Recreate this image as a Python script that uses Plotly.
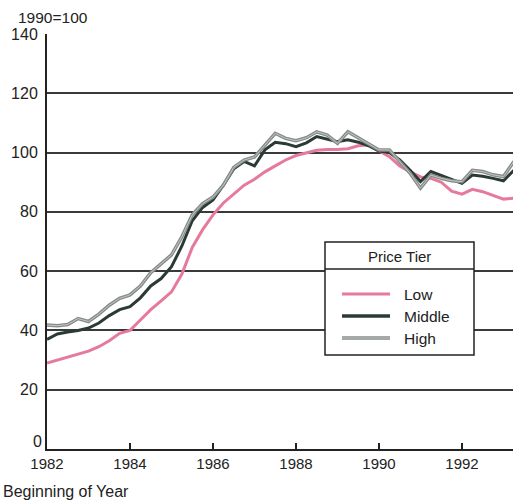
import plotly.graph_objects as go

# ---- data (quarterly, 1990=100) ----
years = [1982 + 0.25 * i for i in range(46)]  # 1982.00 .. 1993.25 (beginning of quarters)

low = [29, 30, 31, 32, 33, 34.5, 36.5, 39, 40, 43.5, 47, 50,
       53, 59, 68, 74, 79, 83, 86, 89, 91, 93.5, 95.5, 97.5,
       99, 99.8, 100.8, 101, 101, 101.3, 102.3, 102.6, 100.5, 98.6, 95.5, 93.5,
       91.8, 91.3, 90, 87, 86, 87.6, 86.8, 85.5, 84.3, 84.6]

middle = [37, 38.8, 39.5, 40, 40.8, 42.5, 45, 47, 48, 51, 55, 57.5,
          61.5, 68.5, 77, 81.5, 84, 89, 94.5, 97, 95.5, 100.9, 103.5, 103,
          102, 103.3, 105.4, 104.5, 103.7, 104.3, 103.5, 102.3, 100.5, 100, 97.5, 94,
          90.2, 93.6, 92.3, 91, 89.6, 92.4, 92, 91.3, 90.5, 94]

high = [41.8, 41.6, 42, 44, 43, 45.5, 48.5, 50.8, 52, 55, 59.5, 62.5,
        65.5, 71.6, 79, 82.8, 85, 89, 95, 97.5, 98.5, 102.5, 106.5, 104.8,
        104, 105, 107, 105.9, 103.1, 107, 105, 102.8, 100.9, 100.9, 97, 93,
        88, 92.4, 91.3, 90.5, 90.2, 94, 93.6, 92.5, 91.9, 97]

series_names = ["Low", "Middle", "High"]
x_ticks = [1982, 1984, 1986, 1988, 1990, 1992]
y_ticks = [0, 20, 40, 60, 80, 100, 120, 140]

# ---- styling ----
FONT = "Liberation Sans, Arial, Helvetica, sans-serif"
TXT = "#222222"
C_LOW = "#e67a9b"
C_MID = "#2c3a35"
C_HIGH = "#868d89"
C_HIGH_IN = "#c3c7c4"
GRID = "#3a3a3a"

W, H = 513, 500
L, R, T, B = 47, 0, 34, 51
PW, PH = W - L - R, H - T - B


def px(xp):
    return (xp - L) / PW


def py(yp):
    return (H - B - yp) / PH


fig = go.Figure()
fig.add_trace(go.Scatter(x=years, y=low, mode="lines", name=series_names[0],
                         line=dict(color=C_LOW, width=3), showlegend=False))
fig.add_trace(go.Scatter(x=years, y=middle, mode="lines", name=series_names[1],
                         line=dict(color=C_MID, width=3), showlegend=False))
fig.add_trace(go.Scatter(x=years, y=high, mode="lines", name=series_names[2],
                         line=dict(color=C_HIGH, width=3.5), showlegend=False))
fig.add_trace(go.Scatter(x=years, y=high, mode="lines", name=series_names[2],
                         line=dict(color=C_HIGH_IN, width=1), showlegend=False,
                         hoverinfo="skip"))

shapes = []
annotations = []

# legend box (drawn manually to match the boxed title style)
bx0, bx1, by0, by1 = 325, 474, 242, 355
shapes.append(dict(type="rect", xref="paper", yref="paper",
                   x0=px(bx0), x1=px(bx1), y0=py(by1), y1=py(by0),
                   fillcolor="white", line=dict(color="#222", width=1.5), layer="above"))
shapes.append(dict(type="line", xref="paper", yref="paper",
                   x0=px(bx0), x1=px(bx1), y0=py(269), y1=py(269),
                   line=dict(color="#222", width=1.5), layer="above"))
annotations.append(dict(text="Price Tier", xref="paper", yref="paper",
                        x=px((bx0 + bx1) / 2), y=py(256), xanchor="center", yanchor="middle",
                        showarrow=False, font=dict(family=FONT, size=15, color=TXT)))
entry_y = [294, 316, 338]
entry_styles = [[(C_LOW, 3)], [(C_MID, 3.5)], [(C_HIGH, 3.5), (C_HIGH_IN, 1)]]
for name, ey, styles in zip(series_names, entry_y, entry_styles):
    for col, wdt in styles:
        shapes.append(dict(type="line", xref="paper", yref="paper",
                           x0=px(342), x1=px(390), y0=py(ey), y1=py(ey),
                           line=dict(color=col, width=wdt), layer="above"))
    annotations.append(dict(text=name, xref="paper", yref="paper",
                            x=px(402), y=py(ey), xanchor="left", yanchor="middle",
                            showarrow=False, font=dict(family=FONT, size=15.5, color=TXT)))

annotations.append(dict(text="1990=100", xref="paper", yref="paper",
                        x=px(16), y=py(17), xanchor="left", yanchor="middle",
                        showarrow=False, font=dict(family=FONT, size=15.5, color=TXT)))
annotations.append(dict(text="Beginning of Year", xref="paper", yref="paper",
                        x=px(1), y=py(491), xanchor="left", yanchor="middle",
                        showarrow=False, font=dict(family=FONT, size=16, color=TXT)))
# the "0" label sits a little above the axis line in the reference
annotations.append(dict(text=str(y_ticks[0]), xref="paper", yref="y",
                        x=px(44), y=y_ticks[0], xanchor="right", yanchor="bottom",
                        yshift=-3, showarrow=False,
                        font=dict(family=FONT, size=16, color=TXT)))

fig.update_layout(
    width=W, height=H,
    margin=dict(l=L, r=R, t=T, b=B),
    paper_bgcolor="white", plot_bgcolor="white",
    font=dict(family=FONT, color=TXT),
    showlegend=False,
    shapes=shapes,
    annotations=annotations,
    xaxis=dict(range=[1982, 1982 + PW / 41.5], tickvals=x_ticks,
               ticktext=[str(v) for v in x_ticks],
               showgrid=False, zeroline=False,
               showline=True, linecolor="#222", linewidth=2,
               ticks="inside", ticklen=6, tickwidth=1.5, tickcolor="#222",
               tickfont=dict(family=FONT, size=15, color=TXT)),
    yaxis=dict(range=[0, 140], tickvals=y_ticks[1:],
               showgrid=True, gridcolor=GRID, gridwidth=1.6,
               zeroline=False, showline=True, linecolor="#222", linewidth=2,
               ticks="", ticklabelstandoff=4,
               tickfont=dict(family=FONT, size=16, color=TXT)),
)

fig.write_html("out.html", config={"displayModeBar": False},
               post_script="document.body.style.margin='0';document.body.style.overflow='hidden';")
